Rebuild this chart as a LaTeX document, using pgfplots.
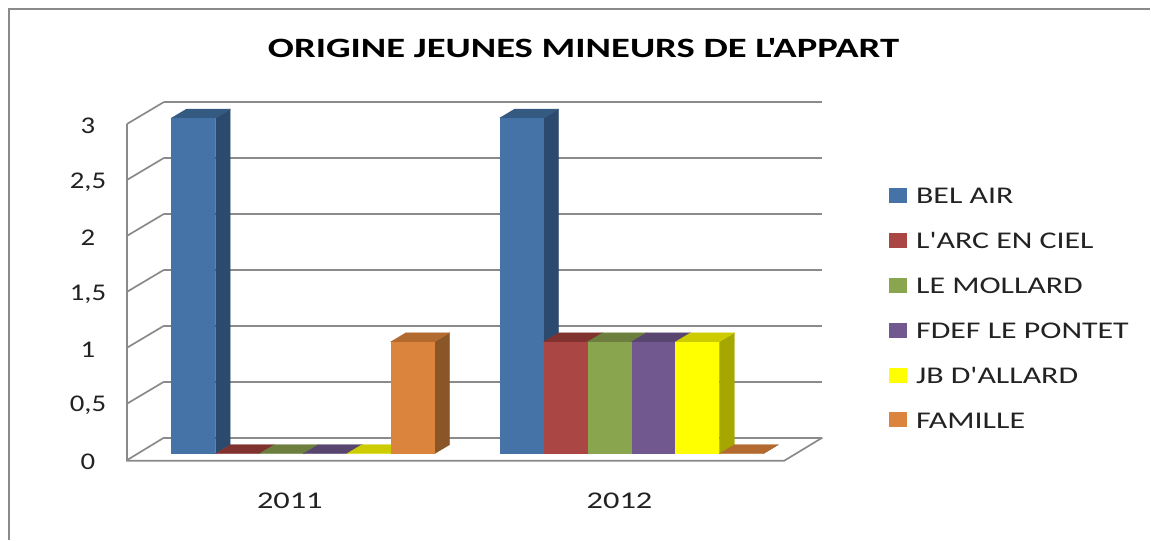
\documentclass[border=0pt]{standalone}
\usepackage{fontspec}
\setmainfont{Carlito}[FakeStretch=1.2,Ligatures=TeXOff]
\newfontfamily\legf{Carlito}[FakeStretch=1.33,Ligatures=TeXOff]
\newfontfamily\titf{Carlito}[FakeStretch=1.38,Ligatures=TeXOff]
\newfontfamily\xtf{Carlito}[FakeStretch=1.35,Ligatures=TeXOff]
\usepackage{pgfplots}
\pgfplotsset{compat=1.18}
\definecolor{gridc}{HTML}{8A8A8A}
\definecolor{txt}{HTML}{222222}
\definecolor{bF}{HTML}{4572A7}\definecolor{bT}{HTML}{345A82}\definecolor{bS}{HTML}{2C4A6E}
\definecolor{rF}{HTML}{AA4643}\definecolor{rT}{HTML}{80322F}\definecolor{rS}{HTML}{6E2D2B}
\definecolor{gF}{HTML}{89A54E}\definecolor{gT}{HTML}{6C7F3E}\definecolor{gS}{HTML}{586B33}
\definecolor{pF}{HTML}{71588F}\definecolor{pT}{HTML}{584670}\definecolor{pS}{HTML}{4A3A5E}
\definecolor{yF}{HTML}{FFFF00}\definecolor{yT}{HTML}{CCCC00}\definecolor{yS}{HTML}{A6A600}
\definecolor{oF}{HTML}{DB843D}\definecolor{oT}{HTML}{B26A2E}\definecolor{oS}{HTML}{8B5627}
% x = left edge of the front face in px, value, colours front/top/side
\newcommand{\tdbar}[5]{%
  \pgfmathsetmacro{\xa}{#1+44}\pgfmathsetmacro{\xb}{#1+15}\pgfmathsetmacro{\xc}{#1+59}%
  \pgfmathsetmacro{\xm}{#1+22}\pgfmathsetmacro{\vb}{#2+0.08}%
  \addplot[forget plot,draw=#5,line width=0.2pt,fill=#5] coordinates {(\xa,0) (\xc,0.08) (\xc,\vb) (\xa,#2)} -- cycle;
  \addplot[forget plot,draw=#4,line width=0.2pt,fill=#4] coordinates {(#1,#2) (\xb,\vb) (\xc,\vb) (\xa,#2)} -- cycle;
  \addplot[forget plot,ybar,bar width=44pt,bar shift=0pt,draw=none,fill=#3] coordinates {(\xm,#2)};
}
\pgfplotsset{px/.style={forget plot,y filter/.expression={(454-y)/112}},
  gl/.style={px,draw=gridc,line width=1.7pt}}
\begin{document}
\begin{tikzpicture}
\begin{axis}[
  scale only axis,width=1151pt,height=540pt,
  xmin=0,xmax=1151,ymin=-0.76786,ymax=4.05357,
  clip=false,axis line style={draw=none},major tick length=0pt,
  xtick={290,620},xticklabels={2011,2012},
  ytick={-0.0536,0.4464,0.9464,1.4464,1.9464,2.4464,2.9464},
  yticklabels={0,{0,5},1,{1,5},2,{2,5},3},
  xticklabel style={anchor=center,yshift=39pt,font=\xtf\fontsize{24}{26}\selectfont,text=txt,inner sep=0pt},
  yticklabel style={anchor=center,xshift=88pt,yshift=-2pt,font=\fontsize{24}{26}\selectfont,text=txt,inner sep=0pt},
  title={ORIGINE JEUNES MINEURS DE L'APPART},
  title style={at={(584/1151,1-54/540)},anchor=center,font=\titf\fontsize{28}{30}\selectfont\bfseries,text=black,inner sep=0pt},
  legend style={at={(890/1151,1-187/540)},anchor=north west,draw=none,fill=none,inner sep=0pt,outer sep=0pt,
    row sep=27.9pt,font=\legf\fontsize{24}{26}\selectfont,text=txt,
    nodes={inner sep=0pt,text height=17pt,text depth=0pt}},
  legend cell align=left,
  legend image code/.code={\fill[#1] (0pt,-7pt) rectangle (17pt,7pt);\path (26.5pt,0pt);},
]
% frame
\addplot[px,draw=gridc,line width=2pt] coordinates {(8.5,540) (8.5,9) (1151,9)};
% walls and floor
\addplot[gl] coordinates {(164,102) (823,102)};
\addplot[gl] coordinates {(164,158) (823,158)};
\addplot[gl] coordinates {(164,214) (823,214)};
\addplot[gl] coordinates {(164,270) (823,270)};
\addplot[gl] coordinates {(164,326) (823,326)};
\addplot[gl] coordinates {(164,382) (823,382)};
\addplot[gl] coordinates {(164,438) (823,438)};
\addplot[gl] coordinates {(127,124) (164,102)};
\addplot[gl] coordinates {(127,180) (164,158)};
\addplot[gl] coordinates {(127,236) (164,214)};
\addplot[gl] coordinates {(127,292) (164,270)};
\addplot[gl] coordinates {(127,348) (164,326)};
\addplot[gl] coordinates {(127,404) (164,382)};
\addplot[gl] coordinates {(127,460.5) (164,438)};
\addplot[gl] coordinates {(127,124) (127,461) (785,461) (823,438)};
% 2011
\tdbar{171.5}{3}{bF}{bT}{bS}
\tdbar{215.5}{0}{rF}{rT}{rS}
\tdbar{259.5}{0}{gF}{gT}{gS}
\tdbar{303.5}{0}{pF}{pT}{pS}
\tdbar{347}{0}{yF}{yT}{yS}
\tdbar{391}{1}{oF}{oT}{oS}
% 2012
\tdbar{500}{3}{bF}{bT}{bS}
\tdbar{544}{1}{rF}{rT}{rS}
\tdbar{588}{1}{gF}{gT}{gS}
\tdbar{632}{1}{pF}{pT}{pS}
\tdbar{676}{1}{yF}{yT}{yS}
\tdbar{720}{0}{oF}{oT}{oS}
\addlegendimage{bF}\addlegendentry{BEL AIR}
\addlegendimage{rF}\addlegendentry{L'ARC EN CIEL}
\addlegendimage{gF}\addlegendentry{LE MOLLARD}
\addlegendimage{pF}\addlegendentry{FDEF LE PONTET}
\addlegendimage{yF}\addlegendentry{JB D'ALLARD}
\addlegendimage{oF}\addlegendentry{FAMILLE}
\end{axis}
\end{tikzpicture}
\end{document}
